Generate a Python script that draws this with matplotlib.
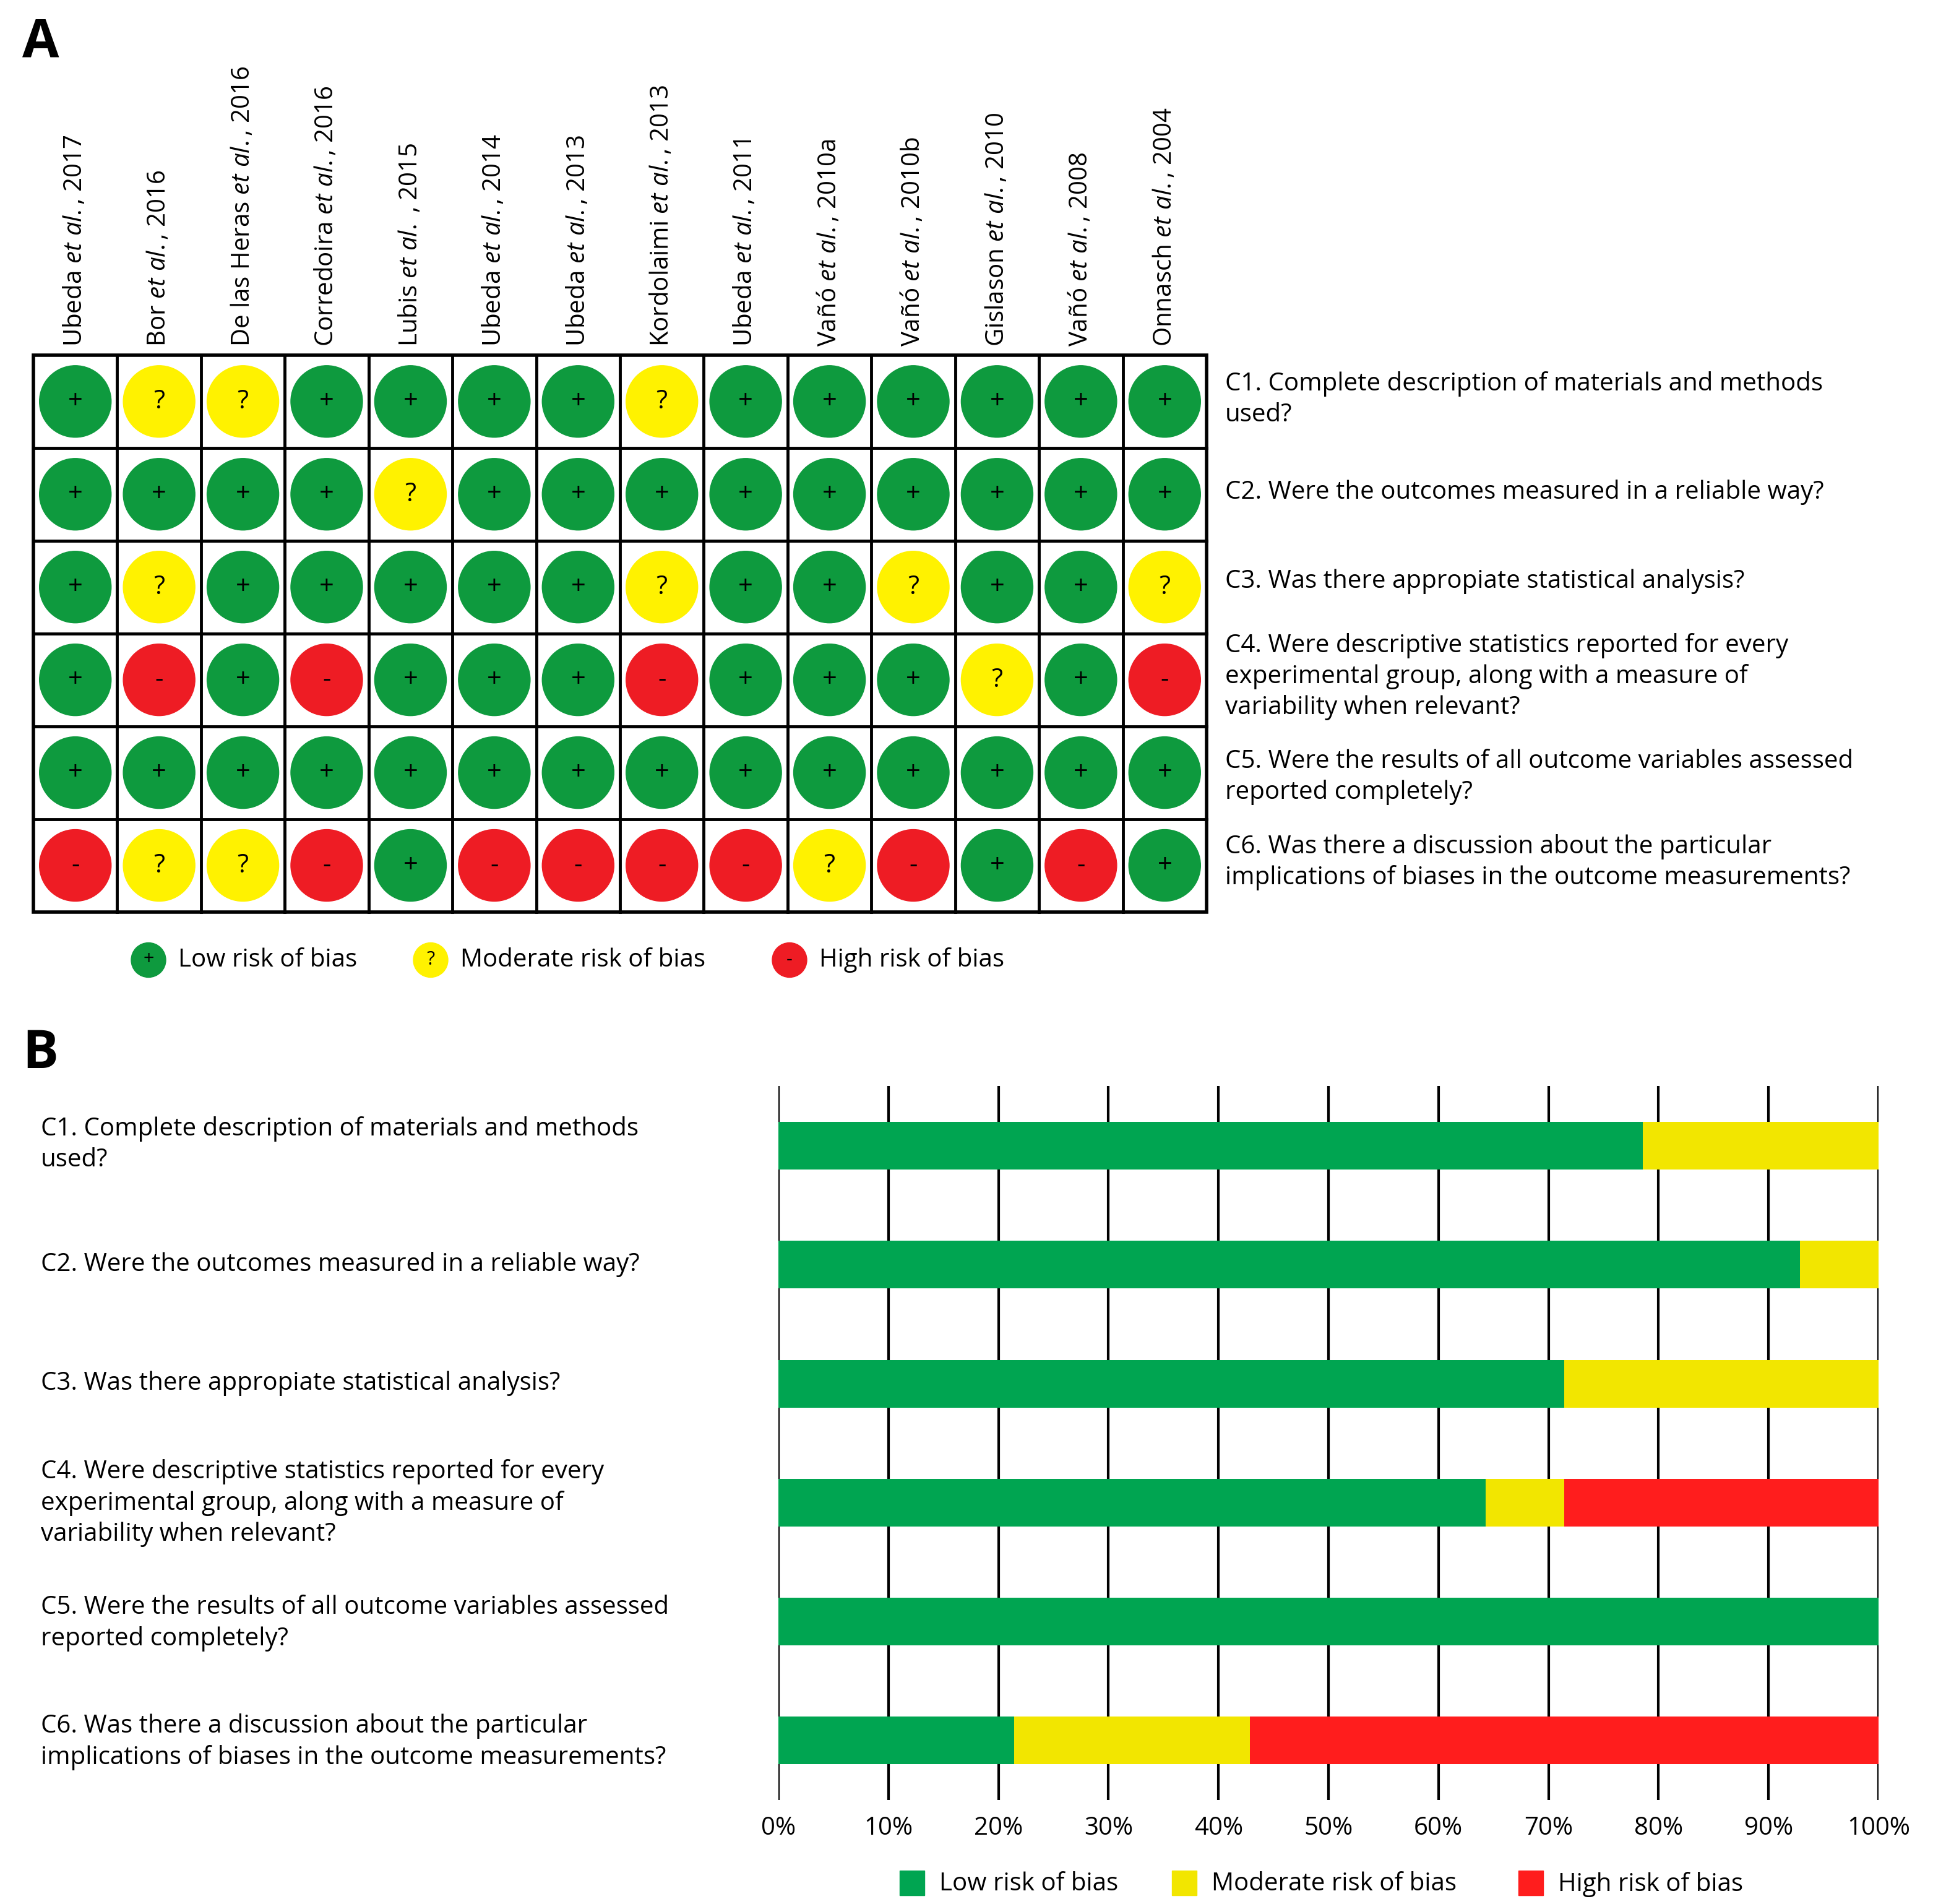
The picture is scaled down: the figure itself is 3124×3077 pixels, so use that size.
import matplotlib
matplotlib.use("Agg")
import matplotlib.pyplot as plt
from matplotlib.patches import Circle, Rectangle
import numpy as np

plt.rcParams['font.family'] = 'Open Sans'
plt.rcParams['mathtext.fontset'] = 'custom'
plt.rcParams['mathtext.it'] = 'Open Sans:italic'
plt.rcParams['mathtext.rm'] = 'Open Sans'

studies = [r"Ubeda $\it{et\ al.}$, 2017", r"Bor $\it{et\ al.}$, 2016", r"De las Heras $\it{et\ al.}$, 2016",
           r"Corredoira $\it{et\ al.}$, 2016", r"Lubis $\it{et\ al.}$ , 2015", r"Ubeda $\it{et\ al.}$, 2014",
           r"Ubeda $\it{et\ al.}$, 2013", r"Kordolaimi $\it{et\ al.}$, 2013", r"Ubeda $\it{et\ al.}$, 2011",
           r"Vañó $\it{et\ al.}$, 2010a", r"Vañó $\it{et\ al.}$, 2010b", r"Gislason $\it{et\ al.}$, 2010",
           r"Vañó $\it{et\ al.}$, 2008", r"Onnasch $\it{et\ al.}$, 2004"]
questions = ["C1. Complete description of materials and methods\nused?",
             "C2. Were the outcomes measured in a reliable way?",
             "C3. Was there appropiate statistical analysis?",
             "C4. Were descriptive statistics reported for every\nexperimental group, along with a measure of\nvariability when relevant?",
             "C5. Were the results of all outcome variables assessed\nreported completely?",
             "C6. Was there a discussion about the particular\nimplications of biases in the outcome measurements?"]
ratings = ["+??++++?++++++",
           "++++?+++++++++",
           "+?+++++?++?++?",
           "+-+-+++-+++?+-",
           "++++++++++++++",
           "-??-+----?-+-+"]
tick_labels = [f"{v}%" for v in range(0, 101, 10)]

circ_col = {'+': '#0e9a3e', '?': '#fff200', '-': '#ee1c24'}
bar_col = ['#00a551', '#f2e600', '#ff1d1d']

fig = plt.figure(figsize=(31.24, 30.77), dpi=100)
ax = fig.add_axes([0, 0, 1, 1])
ax.set_xlim(0, 1562); ax.set_ylim(1539, 0); ax.axis('off')

FS = 29
x0, x1, y0, y1 = 27, 975, 287, 737
cw = (x1 - x0) / 14; ch = (y1 - y0) / 6
ax.add_patch(Rectangle((x0, y0), x1 - x0, y1 - y0, fill=False, lw=4, ec='black'))
for i in range(1, 14):
    ax.plot([x0 + i * cw] * 2, [y0, y1], color='black', lw=3.5)
for j in range(1, 6):
    ax.plot([x0, x1], [y0 + j * ch] * 2, color='black', lw=3.5)
for j, row in enumerate(ratings):
    for i, r in enumerate(row):
        cx = x0 + (i + 0.5) * cw; cy = y0 + (j + 0.5) * ch
        ax.add_patch(Circle((cx, cy), 29, color=circ_col[r]))
        ax.text(cx, cy, {'+': '+', '?': '?', '-': '-'}[r], ha='center', va='center', fontsize=30)
for i, s in enumerate(studies):
    ax.text(x0 + (i + 0.5) * cw, 280, s, rotation=90, ha='center', va='bottom', fontsize=FS)
qy = [323, 398, 470, 547, 628, 697]
for q, y in zip(questions, qy):
    ax.text(990, y, q, ha='left', va='center', fontsize=FS, linespacing=1.3)
for cx, lab, k in [(120, "Low risk of bias", '+'), (348, "Moderate risk of bias", '?'), (638, "High risk of bias", '-')]:
    ax.add_patch(Circle((cx, 776), 14, color=circ_col[k]))
    ax.text(cx, 776, k, ha='center', va='center', fontsize=22)
    ax.text(cx + 24, 776, lab, ha='left', va='center', fontsize=FS)
ax.text(18, 35, "A", fontsize=62, fontweight='bold', va='center')
ax.text(18, 852, "B", fontsize=62, fontweight='bold', va='center')

# Panel B
n = len(studies)
low = np.array([row.count('+') for row in ratings]) / n * 100
mod = np.array([row.count('?') for row in ratings]) / n * 100
high = np.array([row.count('-') for row in ratings]) / n * 100
bx = fig.add_axes([629 / 1562, 1 - 1455 / 1539, (1518 - 629) / 1562, (1455 - 878) / 1539])
yy = np.arange(6)
for v in range(0, 101, 10):
    bx.axvline(v, color='black', lw=3, zorder=0)
bx.barh(yy, low, height=0.4, color=bar_col[0], zorder=2)
bx.barh(yy, mod, left=low, height=0.4, color=bar_col[1], zorder=2)
bx.barh(yy, high, left=low + mod, height=0.4, color=bar_col[2], zorder=2)
bx.set_xlim(0, 100); bx.set_ylim(5.5, -0.5)
for sp in bx.spines.values():
    sp.set_visible(False)
bx.set_yticks([])
bx.set_xticks(range(0, 101, 10))
bx.set_xticklabels(tick_labels, fontsize=FS)
bx.tick_params(axis='x', length=0, pad=18)
bqy = [925, 1022, 1118, 1215, 1312, 1408]
for q, y in zip(questions, bqy):
    ax.text(33, y, q, ha='left', va='center', fontsize=FS, linespacing=1.3)
for x, lab, c in [(727, "Low risk of bias", bar_col[0]), (947, "Moderate risk of bias", bar_col[1]), (1227, "High risk of bias", bar_col[2])]:
    ax.add_patch(Rectangle((x, 1512), 20, 20, color=c))
    ax.text(x + 32, 1523, lab, ha='left', va='center', fontsize=FS)

fig.savefig("out.png", dpi=100)
